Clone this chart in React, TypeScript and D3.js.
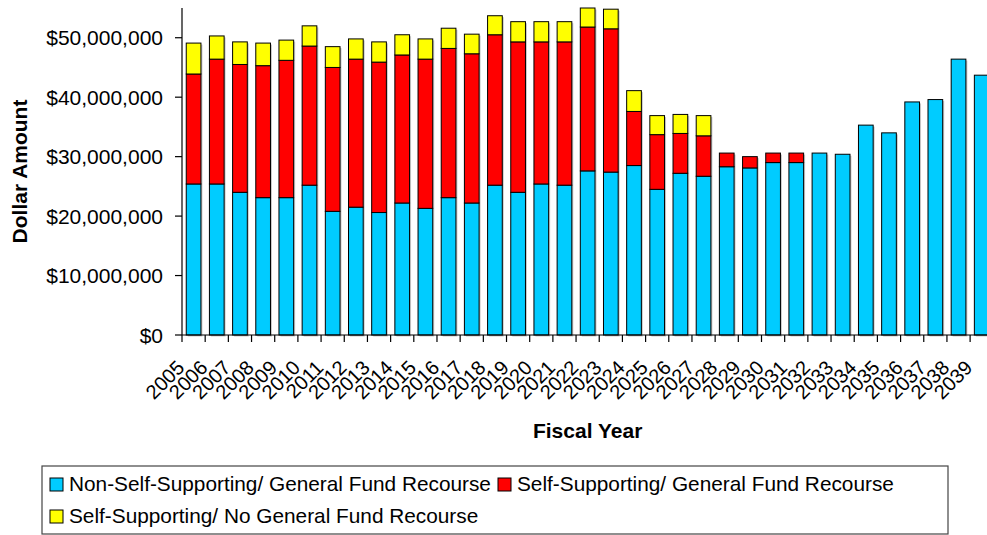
import React from "react";
import * as d3 from "d3";

// Fiscal years shown on the category axis
const years: string[] = [
  "2005", "2006", "2007", "2008", "2009", "2010", "2011", "2012", "2013", "2014",
  "2015", "2016", "2017", "2018", "2019", "2020", "2021", "2022", "2023", "2024",
  "2025", "2026", "2027", "2028", "2029", "2030", "2031", "2032", "2033", "2034",
  "2035", "2036", "2037", "2038", "2039",
];

// Debt service by category, in millions of dollars
const nonSelfSupportingGF: number[] = [
  25.4, 25.4, 24.0, 23.1, 23.1, 25.2, 20.8, 21.5, 20.6, 22.2,
  21.3, 23.1, 22.2, 25.2, 24.0, 25.4, 25.2, 27.6, 27.4, 28.5,
  24.5, 27.2, 26.7, 28.3, 28.1, 29.0, 29.0, 30.6, 30.4, 35.3,
  34.0, 39.2, 39.6, 46.4, 43.7,
];
const selfSupportingGF: number[] = [
  18.5, 21.0, 21.5, 22.2, 23.1, 23.4, 24.2, 24.9, 25.3, 24.9,
  25.1, 25.1, 25.1, 25.3, 25.3, 23.9, 24.1, 24.2, 24.1, 9.1,
  9.2, 6.7, 6.8, 2.3, 1.9, 1.6, 1.6, 0, 0, 0,
  0, 0, 0, 0, 0,
];
const selfSupportingNoGF: number[] = [
  5.2, 3.9, 3.8, 3.8, 3.4, 3.4, 3.5, 3.4, 3.4, 3.4,
  3.4, 3.4, 3.3, 3.2, 3.4, 3.4, 3.4, 3.2, 3.3, 3.5,
  3.2, 3.2, 3.4, 0, 0, 0, 0, 0, 0, 0,
  0, 0, 0, 0, 0,
];

const seriesNames: string[] = [
  "Non-Self-Supporting/ General Fund Recourse",
  "Self-Supporting/ General Fund Recourse",
  "Self-Supporting/ No General Fund Recourse",
];
const seriesColors: string[] = ["#00CCFF", "#FF0000", "#FFFF00"];

const yTicks: number[] = [0, 10e6, 20e6, 30e6, 40e6, 50e6];

const W = 987;
const H = 535;
const FONT = "Arial, 'Liberation Sans', sans-serif";

export default function App() {
  const left = 182;
  const step = 23.18;
  const right = left + step * years.length;
  const top = 8;
  const bottom = 335;

  const x = d3
    .scaleBand<string>()
    .domain(years)
    .range([left, right])
    .paddingInner(0.366)
    .paddingOuter(0.183);
  const y = d3.scaleLinear().domain([0, 55e6]).range([bottom, top]);
  const fmt = d3.format("$,.0f");

  const rows = years.map((yr, i) => ({
    year: yr,
    a: nonSelfSupportingGF[i] * 1e6,
    b: selfSupportingGF[i] * 1e6,
    c: selfSupportingNoGF[i] * 1e6,
  }));
  const stack = d3.stack<any>().keys(["a", "b", "c"]);
  const layers = stack(rows);

  const bw = x.bandwidth();
  const gap = (x.step() - bw) / 2;
  const boundaries = years.map((yr) => (x(yr) as number) - gap);
  boundaries.push(right);

  return (
    <svg
      width={W}
      height={H}
      style={{ position: "absolute", left: 0, top: 0, background: "#fff" }}
      fontFamily={FONT}
    >
      {/* bar shadows */}
      {rows.map((r) => {
        const total = r.a + r.b + r.c;
        return (
          <rect
            key={"sh" + r.year}
            x={(x(r.year) as number) + 1.5}
            y={y(total) + 1.5}
            width={bw}
            height={y(0) - y(total)}
            fill="#9a9a9a"
            opacity={0.55}
          />
        );
      })}
      {/* stacked bars */}
      {layers.map((layer, li) => (
        <g key={li}>
          {layer.map((d: any, i: number) => {
            const h = y(d[0]) - y(d[1]);
            if (h <= 0) return null;
            return (
              <rect
                key={i}
                x={x(years[i]) as number}
                y={y(d[1])}
                width={bw}
                height={h}
                fill={seriesColors[li]}
                stroke="#000"
                strokeWidth={1}
              />
            );
          })}
        </g>
      ))}

      {/* y axis */}
      <line x1={left} x2={left} y1={top} y2={bottom} stroke="#000" strokeWidth={1.2} />
      {yTicks.map((t) => (
        <g key={t}>
          <line x1={left - 7} x2={left} y1={y(t)} y2={y(t)} stroke="#000" strokeWidth={1.2} />
          <text
            x={163}
            y={y(t)}
            dy="0.36em"
            textAnchor="end"
            fontSize={21}
            fill="#000"
          >
            {fmt(t)}
          </text>
        </g>
      ))}

      {/* x axis */}
      <line x1={left} x2={right} y1={bottom} y2={bottom} stroke="#000" strokeWidth={1.2} />
      {boundaries.map((bx, i) => (
        <line key={i} x1={bx} x2={bx} y1={bottom} y2={bottom + 7} stroke="#000" strokeWidth={1.2} />
      ))}
      {years.map((yr) => {
        const cx = (x(yr) as number) + bw / 2;
        return (
          <text
            key={yr}
            transform={`translate(${cx - 8},${369}) rotate(-45)`}
            textAnchor="end"
            fontSize={20}
            fill="#000"
          >
            {yr}
          </text>
        );
      })}

      {/* axis titles */}
      <text
        x={(left + right) / 2}
        y={438}
        textAnchor="middle"
        fontSize={21}
        fontWeight="bold"
      >
        Fiscal Year
      </text>
      <text
        transform={`translate(26.5,${(top + bottom) / 2}) rotate(-90)`}
        textAnchor="middle"
        fontSize={21}
        fontWeight="bold"
      >
        Dollar Amount
      </text>

      {/* legend */}
      <rect x={42} y={466} width={906} height={68} fill="#fff" stroke="#444" strokeWidth={1.2} />
      {[
        { i: 0, sx: 50, ty: 491 },
        { i: 1, sx: 498, ty: 491 },
        { i: 2, sx: 50, ty: 523 },
      ].map(({ i, sx, ty }) => (
        <g key={i}>
          <rect x={sx} y={ty - 13} width={13} height={13} fill={seriesColors[i]} stroke="#000" strokeWidth={1} />
          <text x={sx + 19} y={ty} fontSize={20.8} fill="#000">
            {seriesNames[i]}
          </text>
        </g>
      ))}
    </svg>
  );
}
